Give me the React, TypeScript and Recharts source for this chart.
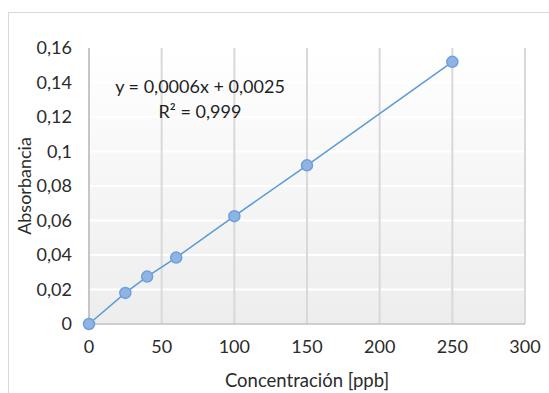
import React from 'react';
import { CartesianGrid, Label, Line, LineChart, XAxis, YAxis } from 'recharts';

const concentrations = [0, 25, 40, 60, 100, 150, 250];
const absorbances = [0, 0.018, 0.0275, 0.0385, 0.0625, 0.092, 0.152];
const xTicks = [0, 50, 100, 150, 200, 250, 300];
const yTicks = [0, 0.02, 0.04, 0.06, 0.08, 0.1, 0.12, 0.14, 0.16];
const equationLines = ['y = 0,0006x + 0,0025', 'R² = 0,999'];

const data = concentrations.map((x, i) => ({ x, y: absorbances[i] }));

const font = 'Lato, "Open Sans", sans-serif';
const textColor = '#2b2b2b';

const fmtComma = (v: number) => String(v).replace('.', ',');

export default function App() {
  return (
    <div style={{ position: 'absolute', left: 0, top: 0, width: 549, height: 393, overflow: 'hidden', background: '#fff', fontFamily: font }}>
      <div
        style={{
          position: 'absolute',
          left: 8,
          top: 12,
          width: 600,
          height: 420,
          border: '1px solid #d9d9d9',
        }}
      />
      <div style={{ position: 'absolute', left: 0, top: 0 }}>
        <LineChart width={549} height={393} data={data} margin={{ top: 48, right: 24, left: 10, bottom: 4 }}>
          <defs>
            <linearGradient id="plotBg" x1="0" y1="0" x2="0" y2="1">
              <stop offset="0%" stopColor="#ffffff" />
              <stop offset="100%" stopColor="#ededed" />
            </linearGradient>
          </defs>
          <CartesianGrid
            fill="url(#plotBg)"
            fillOpacity={1}
            stroke="#ffffff"
            strokeWidth={2}
            vertical={false}
            horizontalValues={yTicks}
          />
          <CartesianGrid
            stroke="#d9d9d9"
            strokeWidth={2}
            horizontal={false}
            verticalValues={xTicks}
          />
          <XAxis
            type="number"
            dataKey="x"
            domain={[0, 300]}
            ticks={xTicks}
            height={65}
            tickLine={false}
            axisLine={{ stroke: '#bfbfbf', strokeWidth: 1.5 }}
            tickMargin={10}
            tick={{ fontSize: 18, fill: textColor, fontFamily: font }}
          >
            <Label
              value="Concentración [ppb]"
              position="insideBottom"
              offset={2}
              style={{ fontSize: 18.5, fill: textColor, fontFamily: font }}
            />
          </XAxis>
          <YAxis
            type="number"
            domain={[0, 0.16]}
            ticks={yTicks}
            width={79}
            tickFormatter={fmtComma}
            tickLine={false}
            axisLine={{ stroke: '#bfbfbf', strokeWidth: 1.5 }}
            tickMargin={11}
            tick={{ fontSize: 18, fill: textColor, fontFamily: font }}
          >
            <Label
              content={({ viewBox }: any) => {
                const cx = 24;
                const cy = viewBox.y + viewBox.height / 2;
                return (
                  <text
                    x={cx}
                    y={cy}
                    transform={`rotate(-90 ${cx} ${cy})`}
                    textAnchor="middle"
                    dominantBaseline="central"
                    style={{ fontSize: 18, fill: textColor, fontFamily: font }}
                  >
                    Absorbancia
                  </text>
                );
              }}
            />
          </YAxis>
          <Line
            type="linear"
            dataKey="y"
            stroke="#5b9bd5"
            strokeWidth={1.5}
            dot={{ r: 5.5, fill: '#8eb4e3', stroke: '#6f9fd8', strokeWidth: 1.5, fillOpacity: 1 }}
            activeDot={false}
            isAnimationActive={false}
          />
        </LineChart>
      </div>
      <div
        style={{
          position: 'absolute',
          left: 100,
          top: 74,
          width: 200,
          textAlign: 'center',
          fontSize: 18,
          lineHeight: '25px',
          color: '#1f1f1f',
        }}
      >
        {equationLines.map((l) => (
          <div key={l}>{l}</div>
        ))}
      </div>
    </div>
  );
}
